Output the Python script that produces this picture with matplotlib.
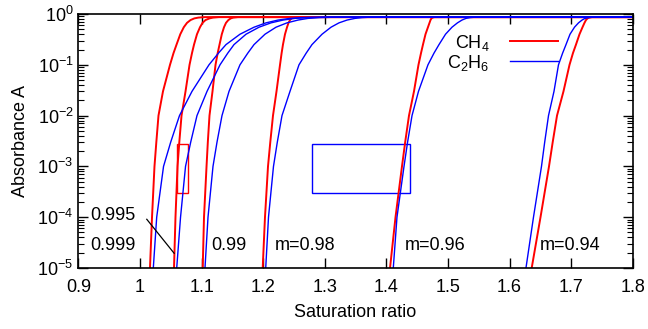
import matplotlib
matplotlib.use('Agg')
import matplotlib.pyplot as plt
from matplotlib.patches import Rectangle
from matplotlib.ticker import LogLocator, NullFormatter

plt.rcParams['font.family'] = ['Liberation Sans', 'DejaVu Sans']
plt.rcParams['mathtext.fontset'] = 'custom'
plt.rcParams['mathtext.rm'] = 'Liberation Sans'
plt.rcParams['mathtext.it'] = 'Liberation Sans'

# absorbance levels at which each curve was read
A_levels = [1e-5, 1e-4, 1e-3, 3e-3, 1e-2, 3e-2, 0.1, 0.17, 0.25, 0.4, 0.55, 0.67, 0.76, 0.82, 0.85, 0.87]
S_end = 1.8

# saturation ratio at each absorbance level, one row per m value
m_labels = ['0.999', '0.995', '0.99', '0.98', '0.96', '0.94']
ch4_S = [
    [1.0162, 1.0195, 1.0235, 1.0265, 1.0300, 1.0373, 1.0487, 1.0544, 1.0593, 1.0654, 1.0711, 1.0763, 1.0820, 1.0882, 1.0947, 1.1055],
    [1.0552, 1.0576, 1.0609, 1.0638, 1.0674, 1.0739, 1.0804, 1.0844, 1.0877, 1.0925, 1.0974, 1.1015, 1.1063, 1.1128, 1.1185, 1.1282],
    [1.1018, 1.1039, 1.1080, 1.1101, 1.1128, 1.1177, 1.1226, 1.1261, 1.1291, 1.1328, 1.1364, 1.1396, 1.1434, 1.1473, 1.1513, 1.1591],
    [1.1992, 1.2029, 1.2078, 1.2115, 1.2159, 1.2216, 1.2273, 1.2299, 1.2321, 1.2354, 1.2387, 1.2411, 1.2435, 1.2459, 1.2484, 1.2533],
    [1.4059, 1.4148, 1.4253, 1.4305, 1.4367, 1.4448, 1.4521, 1.4562, 1.4594, 1.4635, 1.4675, 1.4700, 1.4716, 1.4732, 1.4749, 1.4781],
    [1.6359, 1.6502, 1.6640, 1.6700, 1.6770, 1.6875, 1.6973, 1.7029, 1.7078, 1.7135, 1.7184, 1.7216, 1.7240, 1.7265, 1.7289, 1.7338],
]
c2h6_S = [
    [1.0216, 1.0271, 1.0382, 1.0498, 1.0641, 1.0844, 1.1120, 1.1274, 1.1396, 1.1623, 1.1851, 1.2046, 1.2240, 1.2435, 1.2630, 1.3003],
    [1.0596, 1.0658, 1.0739, 1.0823, 1.0925, 1.1088, 1.1299, 1.1425, 1.1526, 1.1721, 1.1932, 1.2127, 1.2321, 1.2516, 1.2711, 1.3085],
    [1.1055, 1.1104, 1.1185, 1.1250, 1.1331, 1.1445, 1.1623, 1.1750, 1.1851, 1.2029, 1.2208, 1.2387, 1.2565, 1.2727, 1.2906, 1.3247],
    [1.2041, 1.2086, 1.2167, 1.2229, 1.2305, 1.2435, 1.2581, 1.2698, 1.2792, 1.2955, 1.3101, 1.3231, 1.3361, 1.3490, 1.3604, 1.3766],
    [1.4112, 1.4172, 1.4286, 1.4344, 1.4416, 1.4521, 1.4675, 1.4773, 1.4854, 1.4960, 1.5065, 1.5154, 1.5227, 1.5292, 1.5357, 1.5455],
    [1.6266, 1.6388, 1.6518, 1.6570, 1.6632, 1.6721, 1.6794, 1.6861, 1.6916, 1.6981, 1.7054, 1.7119, 1.7176, 1.7224, 1.7281, 1.7370],
]

# zoom boxes: S from, S to, A from, A to
box_ch4 = [1.060, 1.078, 3e-4, 2.8e-3]
box_c2h6 = [1.279, 1.439, 3e-4, 2.8e-3]

# m labels
label_text = ['0.995', '0.999', '0.99', 'm=0.98', 'm=0.96', 'm=0.94']
label_S = [0.920, 0.920, 1.116, 1.219, 1.430, 1.649]
label_A = [1.1e-4, 2.8e-5, 2.8e-5, 2.8e-5, 2.8e-5, 2.8e-5]
pointer_S = [1.011, 1.0554]
pointer_A = [9.1e-5, 1.95e-5]

fig = plt.figure(figsize=(6.48, 3.29), dpi=100)
ax = fig.add_axes([0.121, 0.1854, 0.8555, 0.772])

for i in range(len(m_labels)):
    ax.plot(ch4_S[i] + [S_end], A_levels + [A_levels[-1]], color='#ff0000', lw=1.4,
            label='CH$_4$' if i == 0 else None)
for i in range(len(m_labels)):
    ax.plot(c2h6_S[i] + [S_end], A_levels + [A_levels[-1]], color='#0000ff', lw=1.0,
            label='C$_2$H$_6$' if i == 0 else None)

for box, col in [(box_ch4, '#ff0000'), (box_c2h6, '#0000ff')]:
    ax.add_patch(Rectangle((box[0], box[2]), box[1] - box[0], box[3] - box[2],
                           fill=False, edgecolor=col, lw=1.0))

for t, s, a in zip(label_text, label_S, label_A):
    ax.text(s, a, t, fontsize=13, va='center', ha='left')
ax.plot(pointer_S, pointer_A, color='black', lw=0.9)

ax.set_yscale('log')
ax.set_xlim(0.9, 1.8)
ax.set_ylim(1e-5, 1)
ax.set_xticks([0.9, 1.0, 1.1, 1.2, 1.3, 1.4, 1.5, 1.6, 1.7, 1.8])
ax.set_xticklabels(['0.9', '1', '1.1', '1.2', '1.3', '1.4', '1.5', '1.6', '1.7', '1.8'])
ax.yaxis.set_major_locator(LogLocator(base=10, numticks=10))
ax.yaxis.set_minor_locator(LogLocator(base=10, subs=range(2, 10), numticks=20))
ax.yaxis.set_minor_formatter(NullFormatter())
ax.tick_params(which='both', direction='in', top=True, right=True, labelsize=13)
ax.tick_params(which='major', length=7, width=1)
ax.tick_params(which='minor', length=4, width=0.8)
ax.tick_params(axis='x', pad=8)
for sp in ax.spines.values():
    sp.set_linewidth(1.2)

ax.set_xlabel('Saturation ratio', fontsize=13, labelpad=6)
ax.set_ylabel('Absorbance A', fontsize=13, labelpad=6)

ax.legend(loc='upper right', bbox_to_anchor=(0.895, 0.99), frameon=False, markerfirst=False,
          fontsize=13, handlelength=2.7, handletextpad=1.1, labelspacing=0.0)

fig.savefig('out.png', dpi=100)
